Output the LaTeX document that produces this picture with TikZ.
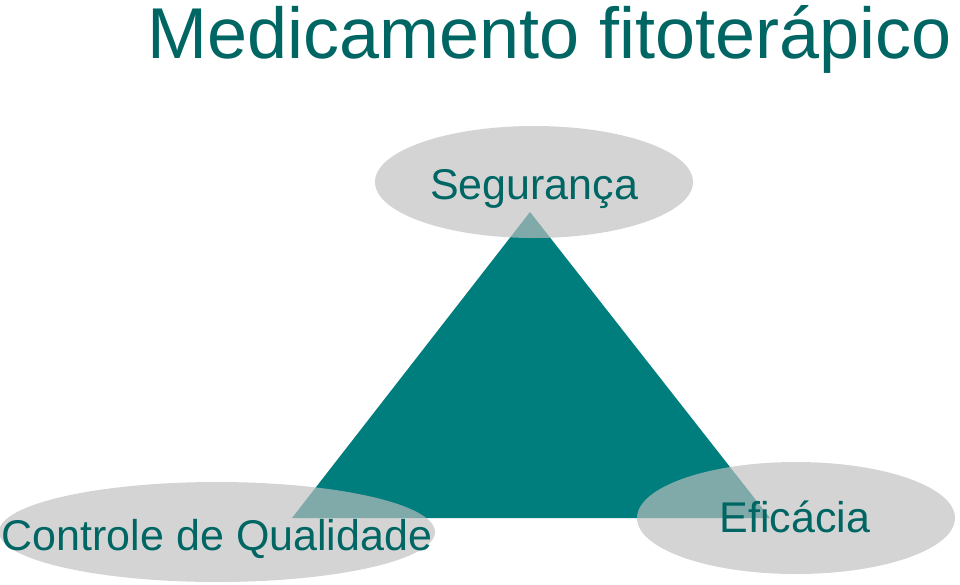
\documentclass[tikz,border=0pt]{standalone}
\usepackage{fontspec}
\setmainfont{Liberation Sans}
\begin{document}
\begin{tikzpicture}[x=1pt,y=-1pt,
  lbl/.style={text=tealtext,inner sep=0pt,anchor=base,font=\fontsize{43}{48}\selectfont},
  oval/.style={fill=ovalgray,fill opacity=0.67}]
\definecolor{tealtext}{RGB}{0,102,100}
\definecolor{tealfill}{RGB}{0,125,125}
\definecolor{ovalgray}{RGB}{191,191,191}
\useasboundingbox (0,0) rectangle (960,584);
% triangle
\fill[tealfill] (530,212) -- (770,518) -- (292,518) -- cycle;
% ovals
\fill[oval] (534,182) ellipse [x radius=159, y radius=56];
\fill[oval] (217,532) ellipse [x radius=218, y radius=50];
\fill[oval] (796,518) ellipse [x radius=159, y radius=56];
% title
\node[text=tealtext,inner sep=0pt,anchor=base west,font=\fontsize{72}{80}\selectfont] (title) at (147,58) {Medicamento fitoterápico};
% labels
\node[lbl] (seg) at (534,199) {Segurança};
\node[lbl] (cq) at (217,550) {Controle de Qualidade};
\node[lbl] (ef) at (795,532) {Eficácia};
\end{tikzpicture}
\end{document}
